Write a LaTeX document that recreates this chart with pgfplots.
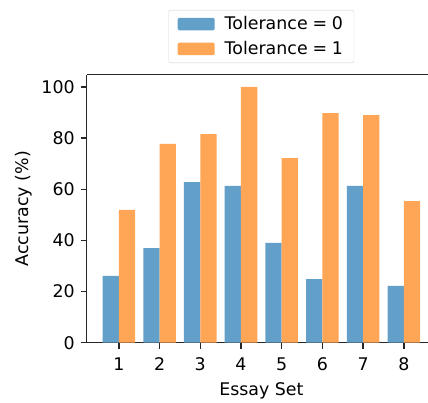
\documentclass[border=0pt]{standalone}
\usepackage{pgfplots}
\pgfplotsset{compat=1.18}
\usepackage{fontspec}
\setmainfont{DejaVu Sans}
\definecolor{cblue}{HTML}{62A0CA}
\definecolor{corange}{HTML}{FFA556}
\newcommand\fs{\fontsize{17.4}{20}\selectfont}
\begin{document}
\fs
\begin{tikzpicture}
\begin{axis}[
  at={(0pt,0pt)}, anchor=south west,
  scale only axis,
  width=349.3pt, height=268pt,
  xmin=0.21, xmax=8.79, ymin=0, ymax=104.8,
  axis line style={line width=1.4pt, black!85},
  axis x line*=bottom, axis y line*=left,
  xtick={1,...,8}, ytick={0,20,...,100},
  tick align=outside, major tick length=6pt,
  tick style={line width=1.4pt, black!85},
  /pgf/number format/assume math mode=true,
  ticklabel style={font=\fs},
  xticklabel style={yshift=-3pt},
  xlabel={Essay Set}, ylabel={Accuracy (\%)},
  label style={font=\fs},
  xlabel style={yshift=0pt},
  ylabel style={yshift=-2pt},
  ybar, bar width=0.4,
  legend style={at={(0.5,1.0436)}, anchor=south, draw=black!18, rounded corners=2pt,
    font=\fs, inner xsep=9pt, inner ysep=4pt,
    row sep=5pt, cells={anchor=west}},
  legend image code/.code={\fill[#1] (0pt,-6.3pt) rectangle (37pt,6.3pt);},
]
\addplot[fill=cblue, draw=none, bar shift=-0.2] coordinates {
(1,26.1) (2,37.0) (3,62.8) (4,61.3) (5,39.0) (6,24.9) (7,61.3) (8,22.2)};
\addplot[fill=corange, draw=none, bar shift=0.2] coordinates {
(1,51.9) (2,77.7) (3,81.6) (4,100) (5,72.2) (6,89.8) (7,89.0) (8,55.4)};
\legend{\hspace{8pt}Tolerance\;=\;0, \hspace{8pt}Tolerance\;=\;1}
\draw[line width=1.4pt, black!85] (rel axis cs:0,1) -- (rel axis cs:1,1);
\draw[line width=1.4pt, black!85] (rel axis cs:1,0) -- (rel axis cs:1,1);
\end{axis}
\pgfresetboundingbox
\path[use as bounding box] (-86.7pt,-60.3pt) rectangle (341.3pt,342.7pt);
\end{tikzpicture}
\end{document}
